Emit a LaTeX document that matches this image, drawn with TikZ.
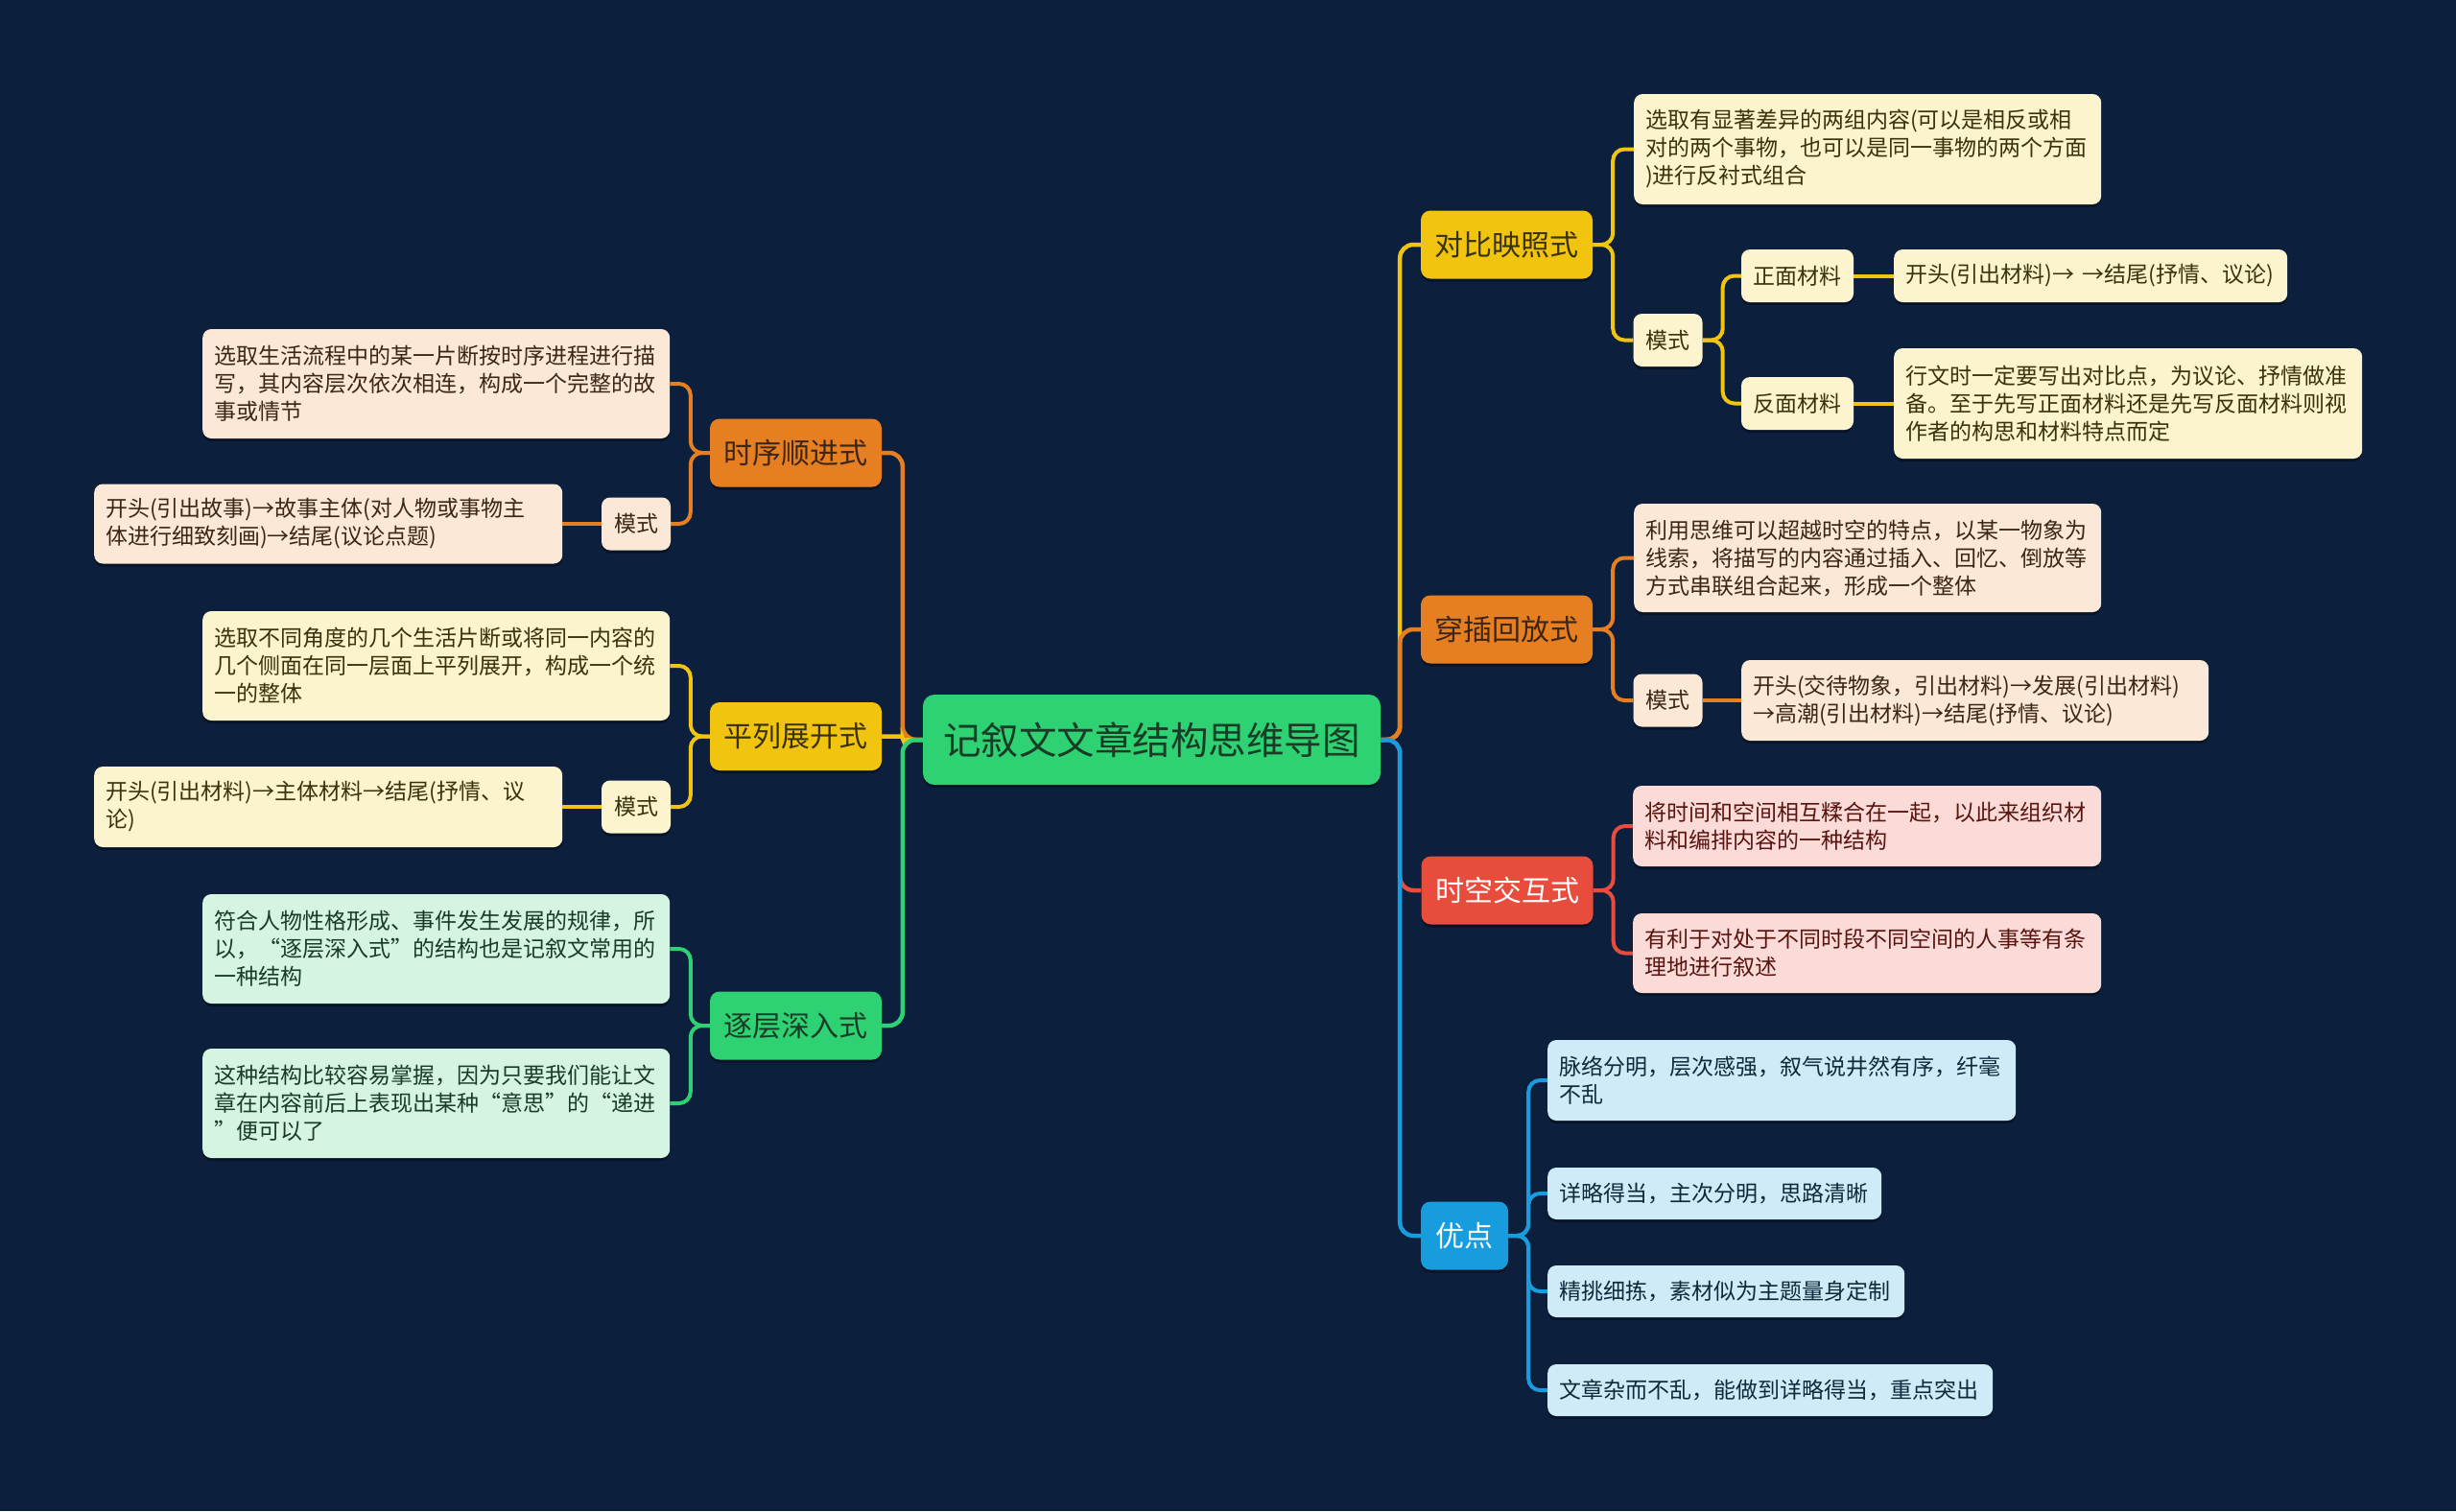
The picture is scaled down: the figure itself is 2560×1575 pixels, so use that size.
\documentclass[tikz,border=0pt]{standalone}
\usepackage{fontspec}
\setmainfont{Noto Sans CJK SC}
\usetikzlibrary{shadows}
\definecolor{bg}{RGB}{12,32,61}
\definecolor{corange}{RGB}{230,126,34}
\definecolor{cyellow}{RGB}{241,196,15}
\definecolor{cgreen}{RGB}{46,210,115}
\definecolor{cred}{RGB}{231,76,60}
\definecolor{cblue}{RGB}{23,157,222}
\definecolor{peach}{RGB}{251,232,214}
\definecolor{lyellow}{RGB}{252,243,207}
\definecolor{mint}{RGB}{213,245,226}
\definecolor{pink}{RGB}{250,219,216}
\definecolor{lblue}{RGB}{207,235,248}
\definecolor{tOr}{RGB}{61,38,20}
\definecolor{tYe}{RGB}{58,50,10}
\definecolor{tGr}{RGB}{25,60,38}
\definecolor{tRe}{RGB}{90,20,15}
\definecolor{tBl}{RGB}{15,40,60}
\pgfdeclarelayer{back}
\pgfsetlayers{back,main}
\begin{document}
\begin{tikzpicture}[x=1pt,y=-1pt,
  base/.style={rounded corners=9pt, inner sep=0pt,
    drop shadow={shadow xshift=0pt, shadow yshift=-3pt, opacity=0.35, fill=black}},
  rootbox/.style={base, rounded corners=12pt, fill=cgreen, text=tGr,
    minimum width=477pt, minimum height=94pt, font=\fontsize{39.5}{46}\selectfont},
  lvl/.style={base, rounded corners=10pt, minimum width=179pt, minimum height=71pt,
    font=\fontsize{30}{36}\selectfont},
  lvlsmall/.style={lvl, minimum width=91pt},
  leaf/.style={base, anchor=west, align=left, inner xsep=12pt, inner ysep=0pt,
    font=\fontsize{23}{29}\selectfont},
  tag/.style={base, minimum width=72pt, minimum height=55pt,
    font=\fontsize{23}{29}\selectfont},
  tagwide/.style={tag, minimum width=117pt},
  conn/.style={draw=#1, line width=4.5pt, rounded corners=14pt},
  sub/.style={draw=#1, line width=4pt, rounded corners=12pt}
]
\useasboundingbox (0,0) rectangle (2560,1575);

% root
\node[rootbox] (root) at (1200.5,771) {记叙文文章结构思维导图};

% left level 1
\node[lvl, fill=corange, text=tOr] (sx) at (829.5,472) {时序顺进式};
\node[lvl, fill=cyellow, text=tYe] (pl) at (829.5,767.5) {平列展开式};
\node[lvl, fill=cgreen, text=tGr] (zc) at (829.5,1069) {逐层深入式};

% left leaves
\node[leaf, fill=peach, text=tOr, text width=463pt, minimum height=114pt] (a1) at (211,400)
  {选取生活流程中的某一片断按时序进程进行描\\写，其内容层次依次相连，构成一个完整的故\\事或情节};
\node[tag, fill=peach, text=tOr] (ms1) at (663,546) {模式};
\node[leaf, fill=peach, text=tOr, text width=464pt, minimum height=83pt] (a2) at (98,546)
  {开头(引出故事)→故事主体(对人物或事物主\\体进行细致刻画)→结尾(议论点题)};

\node[leaf, fill=lyellow, text=tYe, text width=463pt, minimum height=114pt] (b1) at (211,694)
  {选取不同角度的几个生活片断或将同一内容的\\几个侧面在同一层面上平列展开，构成一个统\\一的整体};
\node[tag, fill=lyellow, text=tYe] (ms2) at (663,841) {模式};
\node[leaf, fill=lyellow, text=tYe, text width=464pt, minimum height=84pt] (b2) at (98,841)
  {开头(引出材料)→主体材料→结尾(抒情、议\\论)};

\node[leaf, fill=mint, text=tGr, text width=463pt, minimum height=114pt] (c1) at (211,989)
  {符合人物性格形成、事件发生发展的规律，所\\以，“逐层深入式”的结构也是记叙文常用的\\一种结构};
\node[leaf, fill=mint, text=tGr, text width=463pt, minimum height=114pt] (c2) at (211,1150)
  {这种结构比较容易掌握，因为只要我们能让文\\章在内容前后上表现出某种“意思”的“递进\\”便可以了};

% right level 1
\node[lvl, fill=cyellow, text=tYe] (db) at (1570.5,255) {对比映照式};
\node[lvl, fill=corange, text=tOr] (cc) at (1570.5,656) {穿插回放式};
\node[lvl, fill=cred, text=white] (sk) at (1571,928) {时空交互式};
\node[lvlsmall, fill=cblue, text=white] (yd) at (1526.5,1288) {优点};

% right leaves
\node[leaf, fill=lyellow, text=tYe, text width=463pt, minimum height=115pt] (d1) at (1703,155.5)
  {选取有显著差异的两组内容(可以是相反或相\\对的两个事物，也可以是同一事物的两个方面\\)进行反衬式组合};
\node[tag, fill=lyellow, text=tYe] (ms3) at (1738.5,354.5) {模式};
\node[tagwide, fill=lyellow, text=tYe] (zm) at (1873.5,287.5) {正面材料};
\node[tagwide, fill=lyellow, text=tYe] (fm) at (1873.5,420.5) {反面材料};
\node[leaf, fill=lyellow, text=tYe, text width=386pt, minimum height=55pt] (dp) at (1974,287.5)
  {开头(引出材料)→~→结尾(抒情、议论)};
\node[leaf, fill=lyellow, text=tYe, text width=464pt, minimum height=115pt] (dn) at (1974,420.5)
  {行文时一定要写出对比点，为议论、抒情做准\\备。至于先写正面材料还是先写反面材料则视\\作者的构思和材料特点而定};

\node[leaf, fill=peach, text=tOr, text width=463pt, minimum height=113pt] (e1) at (1703,581.5)
  {利用思维可以超越时空的特点，以某一物象为\\线索，将描写的内容通过插入、回忆、倒放等\\方式串联组合起来，形成一个整体};
\node[tag, fill=peach, text=tOr] (ms4) at (1738.5,730) {模式};
\node[leaf, fill=peach, text=tOr, text width=463pt, minimum height=84pt] (e2) at (1815,730)
  {开头(交待物象，引出材料)→发展(引出材料)\\→高潮(引出材料)→结尾(抒情、议论)};

\node[leaf, fill=pink, text=tRe, text width=464pt, minimum height=84pt] (f1) at (1702,861)
  {将时间和空间相互糅合在一起，以此来组织材\\料和编排内容的一种结构};
\node[leaf, fill=pink, text=tRe, text width=464pt, minimum height=83pt] (f2) at (1702,993.5)
  {有利于对处于不同时段不同空间的人事等有条\\理地进行叙述};

\node[leaf, fill=lblue, text=tBl, text width=464pt, minimum height=84pt] (g1) at (1613,1126)
  {脉络分明，层次感强，叙气说井然有序，纤毫\\不乱};
\node[leaf, fill=lblue, text=tBl, text width=324pt, minimum height=54pt] (g2) at (1613,1244)
  {详略得当，主次分明，思路清晰};
\node[leaf, fill=lblue, text=tBl, text width=348pt, minimum height=54pt] (g3) at (1613,1346)
  {精挑细拣，素材似为主题量身定制};
\node[leaf, fill=lblue, text=tBl, text width=440pt, minimum height=54pt] (g4) at (1613,1449)
  {文章杂而不乱，能做到详略得当，重点突出};

\begin{pgfonlayer}{back}
\fill[bg] (0,0) rectangle (2560,1575);
% root to left level 1
\draw[conn=corange] (root.west) -- ([xshift=-21pt]root.west) |- (sx.east);
\draw[conn=cyellow, rounded corners=2pt] (root.west) -- ([xshift=-21pt]root.west) |- (pl.east);
\draw[conn=cgreen] (root.west) -- ([xshift=-21pt]root.west) |- (zc.east);
% root to right level 1
\draw[conn=cyellow] (root.east) -- ([xshift=20pt]root.east) |- (db.west);
\draw[conn=corange] (root.east) -- ([xshift=20pt]root.east) |- (cc.west);
\draw[conn=cred] (root.east) -- ([xshift=20pt]root.east) |- (sk.west);
\draw[conn=cblue] (root.east) -- ([xshift=20pt]root.east) |- (yd.west);
% left subs
\draw[sub=corange] (sx.west) -- ([xshift=-20pt]sx.west) |- (a1.east);
\draw[sub=corange] (sx.west) -- ([xshift=-20pt]sx.west) |- (ms1.east);
\draw[sub=corange] (ms1.west) -- (a2.east);
\draw[sub=cyellow] (pl.west) -- ([xshift=-20pt]pl.west) |- (b1.east);
\draw[sub=cyellow] (pl.west) -- ([xshift=-20pt]pl.west) |- (ms2.east);
\draw[sub=cyellow] (ms2.west) -- (b2.east);
\draw[sub=cgreen] (zc.west) -- ([xshift=-20pt]zc.west) |- (c1.east);
\draw[sub=cgreen] (zc.west) -- ([xshift=-20pt]zc.west) |- (c2.east);
% right subs
\draw[sub=cyellow] (db.east) -- ([xshift=21pt]db.east) |- (d1.west);
\draw[sub=cyellow] (db.east) -- ([xshift=21pt]db.east) |- (ms3.west);
\draw[sub=cyellow] (ms3.east) -- ([xshift=21pt]ms3.east) |- (zm.west);
\draw[sub=cyellow] (ms3.east) -- ([xshift=21pt]ms3.east) |- (fm.west);
\draw[sub=cyellow] (zm.east) -- (dp.west);
\draw[sub=cyellow] (fm.east) -- (dn.west);
\draw[sub=corange] (cc.east) -- ([xshift=21pt]cc.east) |- (e1.west);
\draw[sub=corange] (cc.east) -- ([xshift=21pt]cc.east) |- (ms4.west);
\draw[sub=corange] (ms4.east) -- (e2.west);
\draw[sub=cred] (sk.east) -- ([xshift=21pt]sk.east) |- (f1.west);
\draw[sub=cred] (sk.east) -- ([xshift=21pt]sk.east) |- (f2.west);
\draw[sub=cblue] (yd.east) -- ([xshift=21pt]yd.east) |- (g1.west);
\draw[sub=cblue] (yd.east) -- ([xshift=21pt]yd.east) |- (g2.west);
\draw[sub=cblue] (yd.east) -- ([xshift=21pt]yd.east) |- (g3.west);
\draw[sub=cblue] (yd.east) -- ([xshift=21pt]yd.east) |- (g4.west);
\end{pgfonlayer}
\end{tikzpicture}
\end{document}
